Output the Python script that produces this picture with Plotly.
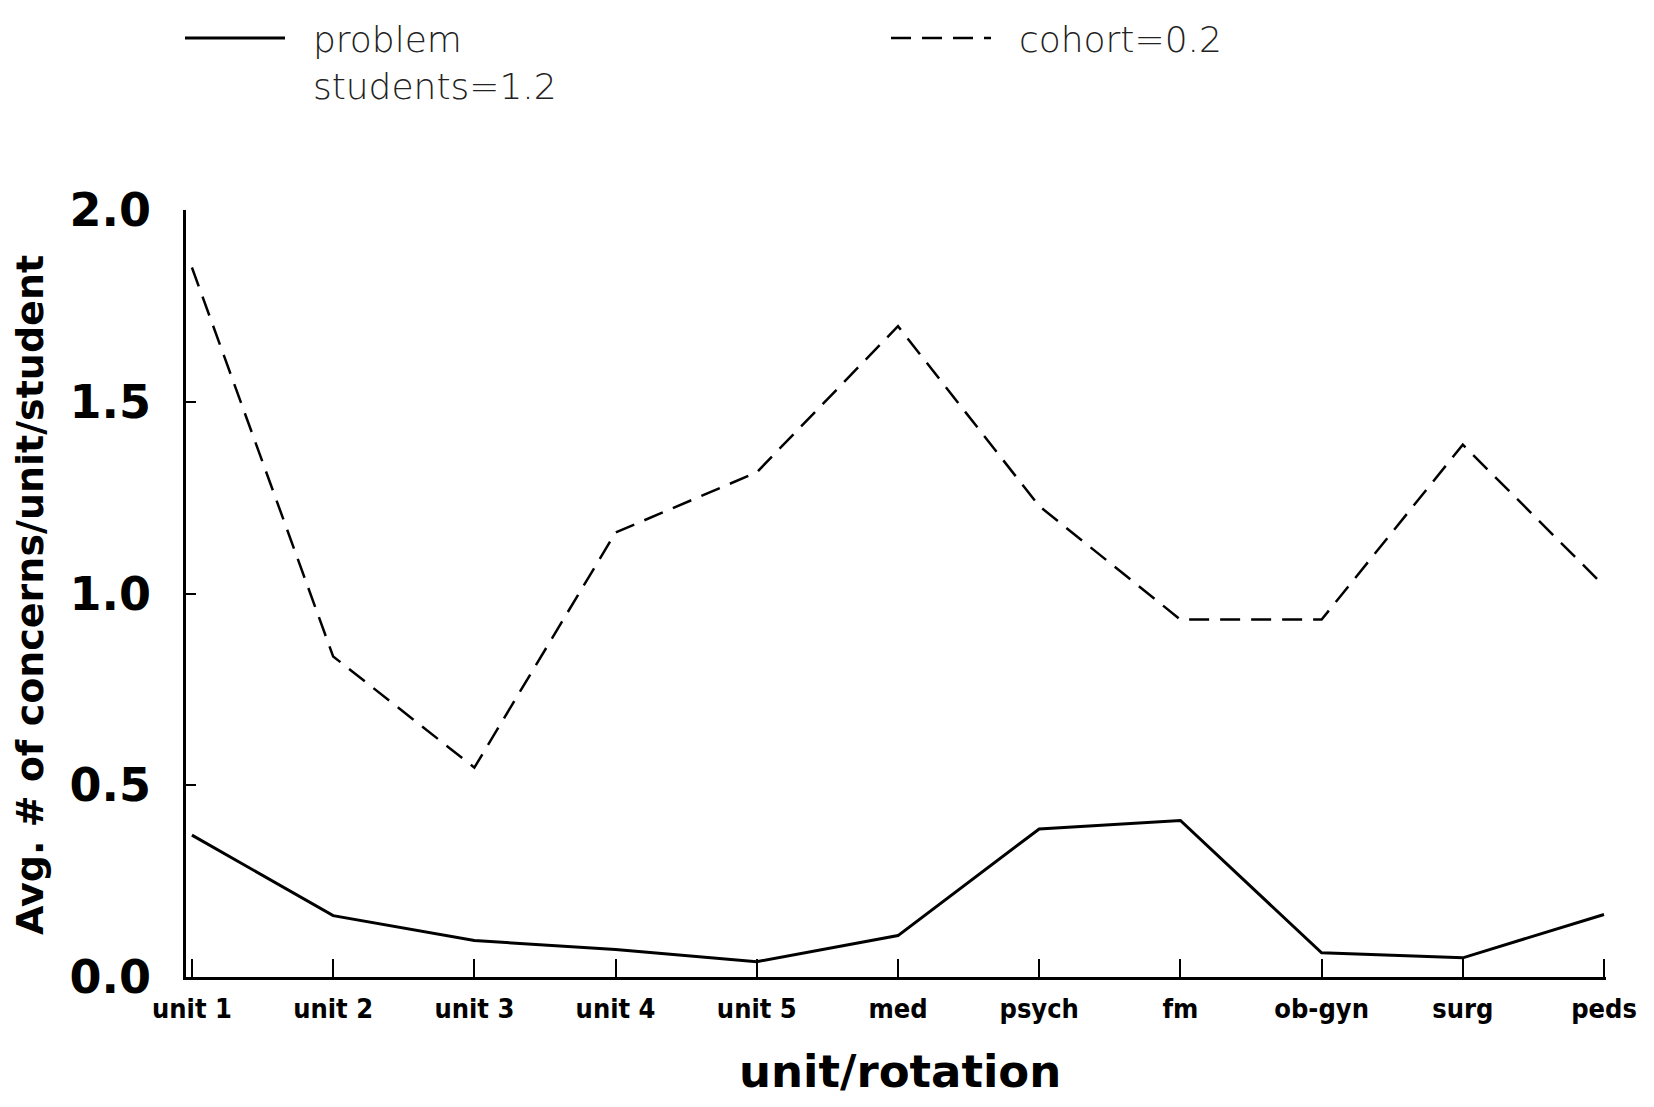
import plotly.graph_objects as go

categories = ["unit 1", "unit 2", "unit 3", "unit 4", "unit 5", "med", "psych", "fm", "ob-gyn", "surg", "peds"]
problem_students = [0.37, 0.16, 0.095, 0.072, 0.04, 0.108, 0.386, 0.408, 0.063, 0.05, 0.163]
cohort = [1.85, 0.836, 0.546, 1.159, 1.316, 1.697, 1.228, 0.932, 0.932, 1.388, 1.02]
y_ticks = [0.0, 0.5, 1.0, 1.5, 2.0]
y_tick_labels = ["0.0", "0.5", "1.0", "1.5", "2.0"]
x_title = "unit/rotation"
y_title = "Avg. # of concerns/unit/student"

xs = list(range(len(categories)))
pad = "\u00a0\u00a0"

legend_font = dict(family="DejaVu Sans, sans-serif", size=36, color="#222", weight=300)

fig = go.Figure()
fig.add_trace(go.Scatter(
    x=xs, y=problem_students, mode="lines",
    name=pad + "problem<br>" + pad + "students=1.2",
    line=dict(color="black", width=3),
    legend="legend",
))
fig.add_trace(go.Scatter(
    x=xs, y=cohort, mode="lines",
    name=pad + "cohort=0.2",
    line=dict(color="black", width=2.5, dash="20px,11px"),
    legend="legend2",
))

# page has an 8px body margin; figure sized to fit the window
W, H = 1638, 1091
L, R, T, B = 178, 40, 202, 122
pw, ph = W - L - R, H - T - B

fig.update_layout(
    width=W, height=H,
    paper_bgcolor="white", plot_bgcolor="white",
    margin=dict(l=L, r=R, t=T, b=B, autoexpand=False),
    showlegend=True,
    legend=dict(
        x=172 / W, y=1.0, xref="container", yref="container",
        xanchor="left", yanchor="top",
        font=legend_font, itemwidth=100, valign="top", bgcolor="rgba(0,0,0,0)",
    ),
    legend2=dict(
        x=878 / W, y=1.0, xref="container", yref="container",
        xanchor="left", yanchor="top",
        font=legend_font, itemwidth=100, valign="top", bgcolor="rgba(0,0,0,0)",
    ),
    xaxis=dict(
        range=[-0.042, 10.014], tickmode="array", tickvals=xs, ticktext=categories,
        showgrid=False, zeroline=False, showline=True, linecolor="black", linewidth=3,
        ticks="inside", ticklen=18, tickwidth=2, tickcolor="black",
        ticklabelstandoff=6,
        tickfont=dict(family="DejaVu Sans Condensed, DejaVu Sans, sans-serif", size=27, color="black", weight="bold"),
    ),
    yaxis=dict(
        range=[0, 2.0], tickmode="array", tickvals=y_ticks, ticktext=y_tick_labels,
        showgrid=False, zeroline=False, showline=True, linecolor="black", linewidth=2.5,
        ticks="inside", ticklen=10, tickwidth=2, tickcolor="black",
        ticklabelstandoff=23,
        tickfont=dict(family="DejaVu Sans, sans-serif", size=46, color="black", weight="bold"),
    ),
    annotations=[
        dict(text=x_title, xref="paper", yref="paper", x=(892 - L) / pw, y=-(1063 - (H - B)) / ph,
             xanchor="center", yanchor="middle", showarrow=False, height=50,
             font=dict(family="DejaVu Sans, sans-serif", size=45, color="black", weight="bold")),
        dict(text=y_title, xref="paper", yref="paper", x=(22 - L) / pw, y=1 - (587 - T) / ph,
             xanchor="center", yanchor="middle", showarrow=False, textangle=-90,
             font=dict(family="DejaVu Sans, sans-serif", size=38, color="black", weight="bold")),
    ],
)

fig.write_html("out.html")
